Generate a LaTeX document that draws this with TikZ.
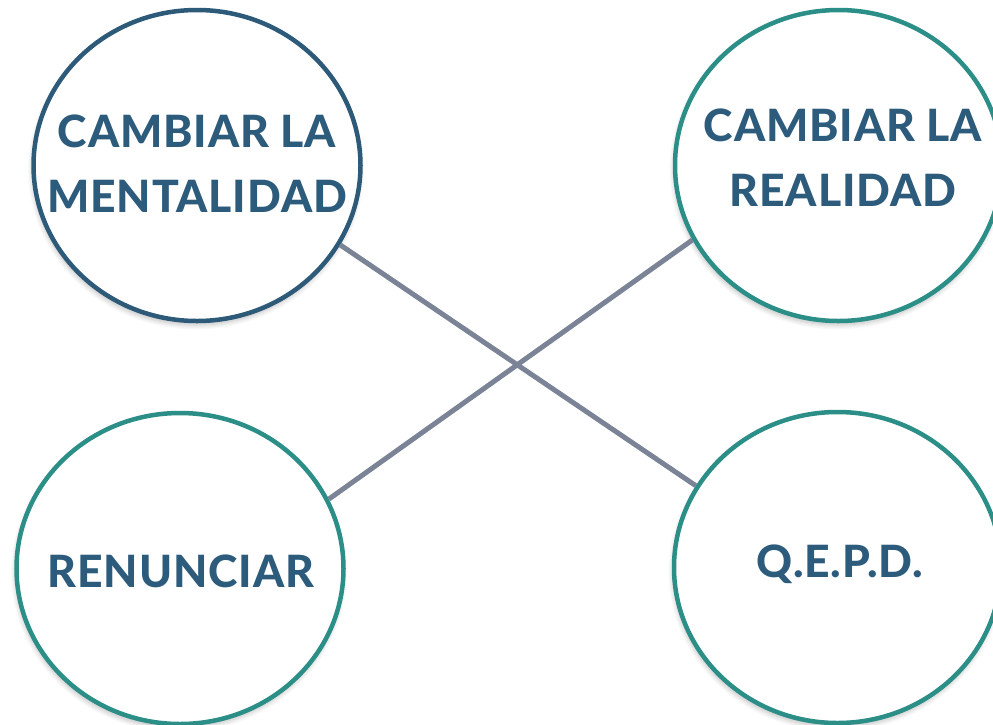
\documentclass[tikz,border=0pt]{standalone}
\usepackage{fontspec}
\newfontfamily\heavyfont{Lato Heavy}[LetterSpace=2]
\usetikzlibrary{shapes.geometric,shadows.blur}
\definecolor{txtblue}{HTML}{2D5B7B}
\definecolor{darkring}{HTML}{2E5A79}
\definecolor{tealring}{HTML}{2B8E87}
\definecolor{linkgray}{HTML}{7B8496}
\tikzset{
  bubble/.style={ellipse, draw=#1, line width=4.5pt, fill=white,
    minimum width=327pt, minimum height=311pt, inner sep=0pt,
    blur shadow={shadow blur steps=8, shadow xshift=-1pt, shadow yshift=-4pt, shadow opacity=25, shadow blur radius=5pt}},
  label/.style={text=txtblue, font=\heavyfont\fontsize{44.5}{65}\selectfont, align=center, inner sep=0pt},
  link/.style={draw=linkgray, line width=5pt}
}
\begin{document}
\begin{tikzpicture}[x=1pt,y=-1pt]
\useasboundingbox (0,0) rectangle (993,724);
\clip (0,0) rectangle (993,724);
\node[bubble=darkring] (tl) at (197,165.5) {};
\node[bubble=tealring] (tr) at (838.5,165.5) {};
\node[bubble=tealring] (bl) at (180,568.5) {};
\node[bubble=tealring] (br) at (837.5,567.5) {};
\draw[link] (tl.-29.6) -- (br.150.9);
\draw[link] (bl.25.5) -- (tr.-153.7);
\node[label] (tlt) at (197,164) {CAMBIAR LA\\MENTALIDAD};
\node[label] (trt) at (843,158) {CAMBIAR LA\\REALIDAD};
\node[label] (blt) at (181,571) {RENUNCIAR};
\node[label] (brt) at (840,564) {Q.E.P.D.};
\end{tikzpicture}
\end{document}
